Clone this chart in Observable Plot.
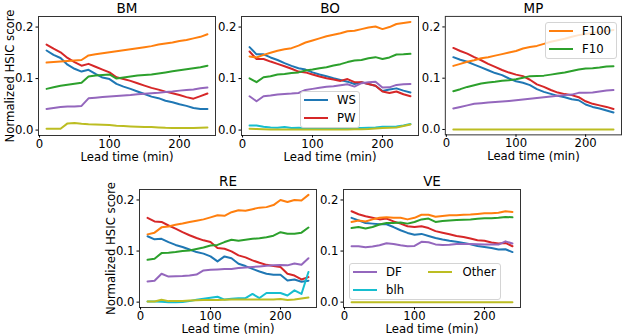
<!DOCTYPE html>
<html><head><meta charset="utf-8">
<script src="https://cdn.jsdelivr.net/npm/d3@7"></script>
<script src="https://cdn.jsdelivr.net/npm/@observablehq/plot@0.6"></script>
<style>
html,body{margin:0;padding:0;background:#fff;}
#fig{position:relative;width:623px;height:336px;overflow:hidden;font-family:"DejaVu Sans",sans-serif;color:#000;}
.panel{position:absolute;}
.legend{position:absolute;box-sizing:border-box;border:1px solid #d4d4d4;border-radius:3px;background:rgba(255,255,255,0.8);}
.legend .h{position:absolute;height:2px;width:24px;}
.legend .t{position:absolute;font-size:11.7px;line-height:14px;white-space:nowrap;}
</style>
</head><body>
<div id="fig"></div>
<script>
// ---- data ----
const leadTimes = [10,20,30,40,50,60,70,80,90,100,110,120,130,140,150,160,170,180,190,200,210,220,230,240];
const seriesNames = ["WS","PW","F100","F10","DF","blh","Other"];
const seriesColors = ["#1f77b4","#d62728","#ff7f0e","#2ca02c","#9467bd","#17becf","#bcbd22"];
const panelNames = ["BM","BO","MP","RE","VE"];
const yTicks = [0, 0.1, 0.2];
const xTicks = [0, 100, 200];

const BM_WS = [0.1545,0.146,0.140,0.127,0.119,0.1136,0.117,0.109,0.102,0.099,0.0896,0.0844,0.080,0.075,0.070,0.065,0.062,0.057,0.054,0.050,0.047,0.043,0.041,0.041];
const BM_PW = [0.166,0.158,0.151,0.140,0.132,0.125,0.1286,0.123,0.1175,0.112,0.1026,0.099,0.0955,0.091,0.0864,0.082,0.0786,0.0747,0.0714,0.068,0.064,0.061,0.066,0.071];
const BM_F100 = [0.131,0.132,0.133,0.134,0.135,0.136,0.145,0.147,0.149,0.151,0.153,0.155,0.157,0.159,0.161,0.163,0.166,0.168,0.170,0.173,0.175,0.178,0.181,0.186];
const BM_F10 = [0.080,0.083,0.086,0.088,0.090,0.092,0.104,0.106,0.107,0.108,0.100,0.102,0.104,0.106,0.107,0.108,0.110,0.112,0.114,0.116,0.118,0.120,0.122,0.125];
const BM_DF = [0.041,0.043,0.045,0.046,0.046,0.047,0.0617,0.063,0.064,0.065,0.066,0.067,0.068,0.0695,0.0705,0.0714,0.0725,0.074,0.075,0.0766,0.078,0.079,0.081,0.0825];
const BM_Other = [0.0026,0.0026,0.0026,0.013,0.0136,0.0123,0.0115,0.011,0.0104,0.0097,0.0084,0.0078,0.0071,0.0065,0.0062,0.0058,0.0052,0.0045,0.0042,0.004,0.004,0.0042,0.0047,0.005];

const BO_WS = [0.161,0.147,0.147,0.141,0.136,0.130,0.1247,0.120,0.1175,0.112,0.108,0.1045,0.1006,0.0974,0.094,0.0896,0.093,0.0896,0.086,0.076,0.0786,0.081,0.0766,0.073];
const BO_PW = [0.1526,0.138,0.138,0.133,0.1286,0.124,0.119,0.1136,0.112,0.108,0.104,0.1006,0.098,0.0955,0.099,0.093,0.093,0.0896,0.086,0.075,0.072,0.075,0.0695,0.0656];
const BO_F100 = [0.143,0.141,0.146,0.150,0.154,0.157,0.159,0.164,0.170,0.174,0.178,0.182,0.185,0.188,0.192,0.193,0.196,0.199,0.201,0.196,0.200,0.206,0.208,0.210];
const BO_F10 = [0.1006,0.093,0.1026,0.1045,0.108,0.109,0.111,0.112,0.1156,0.1175,0.120,0.122,0.1253,0.128,0.132,0.135,0.136,0.1396,0.1416,0.138,0.141,0.1468,0.147,0.148];
const BO_DF = [0.0656,0.056,0.0656,0.067,0.069,0.070,0.0708,0.072,0.078,0.080,0.082,0.084,0.085,0.087,0.089,0.0844,0.091,0.093,0.094,0.0825,0.083,0.0877,0.089,0.0896];
const BO_blh = [0.009,0.009,0.0065,0.005,0.0045,0.006,0.004,0.0045,0.004,0.004,0.004,0.004,0.004,0.004,0.004,0.004,0.004,0.0045,0.005,0.0065,0.0065,0.007,0.009,0.0117];
const BO_Other = [0.0026,0.002,0.0015,0.001,0.001,0.001,0.001,0.001,0.001,0.001,0.001,0.001,0.001,0.001,0.0012,0.0015,0.0018,0.002,0.003,0.004,0.0045,0.005,0.008,0.011];

const MP_WS = [0.141,0.136,0.132,0.1266,0.121,0.1156,0.110,0.106,0.0994,0.094,0.091,0.0864,0.0786,0.0734,0.0695,0.0656,0.063,0.059,0.057,0.0487,0.044,0.041,0.037,0.033];
const MP_PW = [0.159,0.153,0.148,0.141,0.135,0.128,0.122,0.116,0.111,0.107,0.104,0.097,0.088,0.083,0.077,0.072,0.069,0.067,0.063,0.055,0.050,0.047,0.044,0.040];
const MP_F100 = [0.124,0.128,0.132,0.135,0.139,0.141,0.144,0.147,0.150,0.153,0.158,0.161,0.163,0.167,0.171,0.174,0.177,0.181,0.184,0.186,0.188,0.190,0.192,0.194];
const MP_F10 = [0.0747,0.0786,0.083,0.0864,0.0896,0.0916,0.093,0.095,0.096,0.098,0.101,0.104,0.1045,0.105,0.107,0.109,0.111,0.114,0.117,0.119,0.1195,0.121,0.123,0.1234];
const MP_DF = [0.041,0.044,0.047,0.050,0.0513,0.0526,0.0535,0.0545,0.0557,0.057,0.0585,0.060,0.0615,0.063,0.0645,0.066,0.067,0.068,0.0714,0.0714,0.072,0.074,0.076,0.077];
const MP_Other = [0,0,0,0,0,0,0,0,0,0,0,0,0,0,0,0,0,0,0,0,0,0,0,0];

const RE_WS = [0.129,0.123,0.124,0.1176,0.112,0.108,0.103,0.098,0.095,0.0895,0.0797,0.0895,0.086,0.075,0.0706,0.065,0.060,0.0556,0.0536,0.0536,0.0425,0.0444,0.040,0.042];
const RE_PW = [0.165,0.158,0.157,0.150,0.1438,0.137,0.131,0.1255,0.121,0.1176,0.106,0.1046,0.0993,0.0915,0.0876,0.0817,0.077,0.073,0.0706,0.0686,0.0556,0.052,0.0444,0.049];
const RE_F100 = [0.1327,0.136,0.1464,0.148,0.1516,0.154,0.157,0.1595,0.162,0.166,0.170,0.169,0.176,0.180,0.179,0.182,0.185,0.186,0.190,0.200,0.196,0.200,0.199,0.210];
const RE_F10 = [0.083,0.085,0.096,0.0967,0.098,0.100,0.101,0.104,0.107,0.111,0.112,0.1176,0.122,0.120,0.122,0.124,0.125,0.127,0.130,0.137,0.134,0.134,0.136,0.146];
const RE_DF = [0.0405,0.042,0.0556,0.050,0.0505,0.051,0.052,0.054,0.062,0.0634,0.064,0.0647,0.065,0.0667,0.068,0.069,0.070,0.071,0.072,0.0725,0.072,0.0758,0.073,0.086];
const RE_blh = [0.0013,0.0013,0.0007,0.0,0.0,0.0005,0.002,0.0046,0.0065,0.0085,0.0105,0.005,0.0065,0.0075,0.008,0.016,0.008,0.018,0.018,0.018,0.013,0.023,0.016,0.059];
const RE_Other = [0.0013,0.0013,0.0046,0.002,0.002,0.002,0.003,0.0035,0.004,0.004,0.004,0.0045,0.005,0.005,0.005,0.005,0.005,0.005,0.005,0.006,0.004,0.005,0.007,0.009];

const VE_WS = [0.165,0.160,0.155,0.1537,0.1524,0.1524,0.147,0.1407,0.1355,0.132,0.1336,0.1296,0.1257,0.1225,0.120,0.118,0.116,0.1134,0.110,0.108,0.106,0.103,0.1036,0.098];
const VE_PW = [0.178,0.172,0.168,0.165,0.162,0.1635,0.158,0.1537,0.1485,0.147,0.1485,0.145,0.139,0.136,0.133,0.1296,0.1277,0.1244,0.121,0.120,0.1166,0.1147,0.116,0.1094];
const VE_F100 = [0.157,0.160,0.158,0.162,0.165,0.166,0.165,0.165,0.162,0.165,0.171,0.171,0.167,0.1687,0.170,0.170,0.171,0.1715,0.1726,0.174,0.174,0.175,0.178,0.1765];
const VE_F10 = [0.145,0.147,0.144,0.147,0.152,0.155,0.155,0.1557,0.1537,0.157,0.162,0.1635,0.157,0.159,0.160,0.161,0.1615,0.162,0.163,0.164,0.164,0.165,0.1668,0.166];
const VE_DF = [0.1094,0.1094,0.1075,0.1088,0.1114,0.1153,0.114,0.1114,0.1094,0.110,0.118,0.1173,0.113,0.112,0.1125,0.114,0.114,0.114,0.1135,0.1127,0.113,0.1127,0.119,0.1147];
const VE_Other = [0,0,0,0,0,0,0,0,0,0,0,0,0,0,0,0,0,0,0,0,0,0,0,0];

const panelSeries = {
  BM: {WS: BM_WS, PW: BM_PW, F100: BM_F100, F10: BM_F10, DF: BM_DF, Other: BM_Other},
  BO: {WS: BO_WS, PW: BO_PW, F100: BO_F100, F10: BO_F10, DF: BO_DF, blh: BO_blh, Other: BO_Other},
  MP: {WS: MP_WS, PW: MP_PW, F100: MP_F100, F10: MP_F10, DF: MP_DF, Other: MP_Other},
  RE: {WS: RE_WS, PW: RE_PW, F100: RE_F100, F10: RE_F10, DF: RE_DF, blh: RE_blh, Other: RE_Other},
  VE: {WS: VE_WS, PW: VE_PW, F100: VE_F100, F10: VE_F10, DF: VE_DF, Other: VE_Other}
};

// ---- layout ----
const FW = 177, ML = 38, MT = 17, MR = 2, MB = 34;
const panelLayout = {
  BM: {left: 38, top: 16, h: 119, ylabel: true},
  BO: {left: 241, top: 16, h: 119, ylabel: false},
  MP: {left: 445, top: 16, h: 119, ylabel: false},
  RE: {left: 139, top: 189, h: 118, ylabel: true},
  VE: {left: 343, top: 189, h: 118, ylabel: false}
};

const fig = document.getElementById("fig");
const colorOf = Object.fromEntries(seriesNames.map((n, i) => [n, seriesColors[i]]));

for (const name of panelNames) {
  const L = panelLayout[name];
  const S = panelSeries[name];
  const marks = [];
  for (const s of seriesNames) {
    if (!S[s]) continue;
    const rows = leadTimes.map((t, i) => ({t, v: S[s][i]}));
    marks.push(Plot.line(rows, {x: "t", y: "v", stroke: colorOf[s], strokeWidth: 2}));
  }
  marks.push(Plot.frame({stroke: "#333", strokeWidth: 1}));
  marks.push(Plot.axisX({ticks: xTicks, tickSize: 2.5, tickPadding: 1.5, label: null, fontSize: 11.7}));
  marks.push(Plot.axisY({ticks: yTicks, tickFormat: d3.format(".1f"), tickSize: 2.5, tickPadding: 2.5, label: null, fontSize: 11.7}));
  marks.push(Plot.text([name], {frameAnchor: "top", lineAnchor: "middle", dy: -7.5, fontSize: 13.5, text: d => d}));
  marks.push(Plot.text(["Lead time (min)"], {frameAnchor: "bottom", lineAnchor: "middle", dy: 21.5, fontSize: 11.7, text: d => d}));
  if (L.ylabel) {
    marks.push(Plot.text(["Normalized HSIC score"], {frameAnchor: "left", rotate: -90, lineAnchor: "middle", textAnchor: "middle", dx: -28.5, fontSize: 11.7, text: d => d}));
  }
  const chart = Plot.plot({
    width: ML + FW + MR,
    height: MT + L.h + MB,
    marginLeft: ML, marginRight: MR, marginTop: MT, marginBottom: MB,
    x: {domain: [-1.5, 251.5]},
    y: {domain: [-0.0105, 0.2205]},
    style: {background: "transparent", overflow: "visible", fontFamily: "DejaVu Sans", fontSize: "11.7px", color: "#000"},
    marks
  });
  const wrap = document.createElement("div");
  wrap.className = "panel";
  wrap.style.left = (L.left - ML) + "px";
  wrap.style.top = (L.top - MT) + "px";
  wrap.appendChild(chart);
  fig.appendChild(wrap);
}

// ---- legends ----
const legendSpecs = [
  {left: 300, top: 91, w: 60, h: 37, items: [["WS", 0, 0], ["PW", 0, 1]]},
  {left: 545, top: 22, w: 72, h: 37, items: [["F100", 0, 0], ["F10", 0, 1]]},
  {left: 349, top: 263, w: 152, h: 37, items: [["DF", 0, 0], ["blh", 0, 1], ["Other", 1, 0]]}
];
const colX = [{h: 3.5, t: 37}, {h: 78.5, t: 113.5}];
const rowY = [9.3, 26.8];
for (const lg of legendSpecs) {
  const box = document.createElement("div");
  box.className = "legend";
  Object.assign(box.style, {left: lg.left + "px", top: lg.top + "px", width: lg.w + "px", height: lg.h + "px"});
  for (const [label, c, r] of lg.items) {
    const hd = document.createElement("div");
    hd.className = "h";
    Object.assign(hd.style, {left: (colX[c].h - 1) + "px", top: (rowY[r] - 2) + "px", background: colorOf[label]});
    const tx = document.createElement("div");
    tx.className = "t";
    tx.textContent = label;
    Object.assign(tx.style, {left: (colX[c].t - 1) + "px", top: (rowY[r] - 8) + "px"});
    box.appendChild(hd); box.appendChild(tx);
  }
  fig.appendChild(box);
}
</script>
</body></html>
